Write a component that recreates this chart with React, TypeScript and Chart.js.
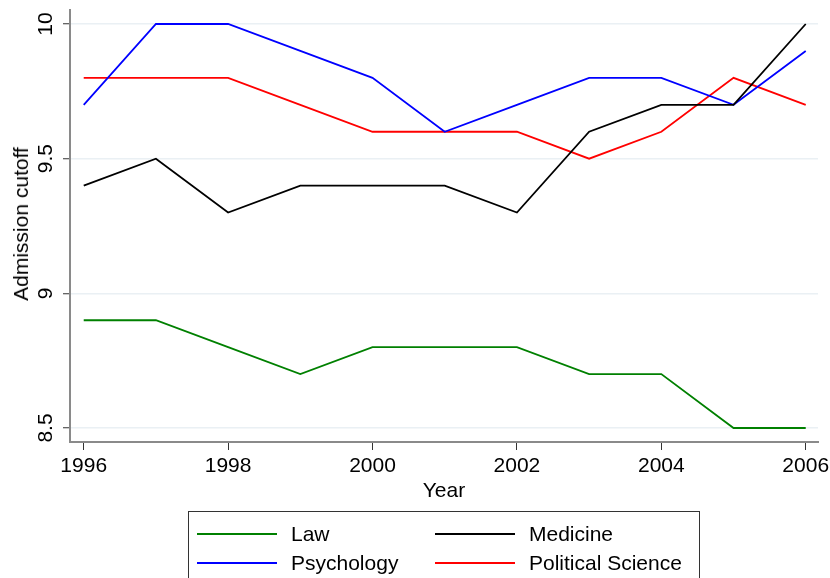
import React, { useEffect, useRef } from "react";
import { Chart, registerables } from "chart.js";

Chart.register(...registerables);

const years = [1996, 1997, 1998, 1999, 2000, 2001, 2002, 2003, 2004, 2005, 2006];
const law = [8.9, 8.9, 8.8, 8.7, 8.8, 8.8, 8.8, 8.7, 8.7, 8.5, 8.5];
const medicine = [9.4, 9.5, 9.3, 9.4, 9.4, 9.4, 9.3, 9.6, 9.7, 9.7, 10.0];
const psychology = [9.7, 10.0, 10.0, 9.9, 9.8, 9.6, 9.7, 9.8, 9.8, 9.7, 9.9];
const politicalScience = [9.8, 9.8, 9.8, 9.7, 9.6, 9.6, 9.6, 9.5, 9.6, 9.8, 9.7];

const xTicks = [1996, 1998, 2000, 2002, 2004, 2006];
const yTicks = [8.5, 9, 9.5, 10];
const yTickLabels = ["8.5", "9", "9.5", "10"];

const seriesNames = ["Law", "Medicine", "Psychology", "Political Science"];
const seriesColors = ["#008000", "#000000", "#0000ff", "#ff0000"];
const seriesValues = [law, medicine, psychology, politicalScience];

const FONT = "'Liberation Sans', Arial, sans-serif";
const FS = 21;

export default function App() {
  const ref = useRef<HTMLCanvasElement | null>(null);

  useEffect(() => {
    if (!ref.current) return;
    const yLabelPlugin = {
      id: "yLabels",
      afterDraw(chart: any) {
        const ctx = chart.ctx;
        const ys = chart.scales.y;
        ctx.save();
        ctx.fillStyle = "#000";
        ctx.font = `${FS}px ${FONT}`;
        ctx.textAlign = "center";
        ctx.textBaseline = "middle";
        yTicks.forEach((v, i) => {
          const py = ys.getPixelForValue(v);
          ctx.save();
          ctx.translate(46, py);
          ctx.rotate(-Math.PI / 2);
          ctx.fillText(yTickLabels[i], 0, 0);
          ctx.restore();
        });
        ctx.restore();
      },
    };
    const chart = new Chart(ref.current, {
      type: "line",
      data: {
        datasets: seriesNames.map((name, i) => ({
          label: name,
          data: years.map((yr, j) => ({ x: yr, y: seriesValues[i][j] })),
          borderColor: seriesColors[i],
          backgroundColor: seriesColors[i],
          borderWidth: 1.8,
          pointRadius: 0,
          tension: 0,
          fill: false,
        })),
      },
      options: {
        animation: false,
        responsive: false,
        devicePixelRatio: 1,
        layout: { padding: { top: 10, right: 12, left: 0, bottom: 0 } },
        plugins: {
          legend: { display: false },
          tooltip: { enabled: false },
        },
        scales: {
          x: {
            type: "linear",
            min: 1995.81,
            max: 2006.17,
            afterBuildTicks: (s: any) => {
              s.ticks = xTicks.map((v) => ({ value: v }));
            },
            afterFit: (s: any) => {
              s.height = 136;
              s.paddingLeft = 0;
              s.paddingRight = 0;
            },
            ticks: {
              color: "#000",
              font: { family: FONT, size: FS },
              padding: 4,
              maxRotation: 0,
              minRotation: 0,
              callback: (v: any) => String(v),
            },
            grid: {
              drawOnChartArea: false,
              drawTicks: true,
              tickLength: 8,
              tickColor: "#333",
              tickWidth: 1,
            },
            border: { color: "#8a8a8a", width: 2 },
          },
          y: {
            type: "linear",
            min: 8.448,
            max: 10.052,
            afterBuildTicks: (s: any) => {
              s.ticks = yTicks.map((v) => ({ value: v }));
            },
            afterFit: (s: any) => {
              s.width = 70;
              s.paddingTop = 0;
              s.paddingBottom = 0;
            },
            ticks: { display: false },
            grid: {
              color: "#eaf0f4",
              lineWidth: 1.5,
              drawTicks: true,
              tickLength: 7,
              tickColor: "#333",
              tickWidth: 1,
            },
            border: { color: "#8a8a8a", width: 2 },
          },
        },
      },
      plugins: [yLabelPlugin],
    } as any);
    return () => chart.destroy();
  }, []);

  const legendItem = (i: number, left: number, centerY: number) => (
    <div
      key={i}
      style={{ position: "absolute", left, top: centerY - 14, height: 28, display: "flex", alignItems: "center" }}
    >
      <div style={{ width: 80, height: 2, background: seriesColors[i] }} />
      <span style={{ marginLeft: 14, fontSize: FS, fontFamily: FONT, color: "#000", whiteSpace: "nowrap", lineHeight: "28px" }}>
        {seriesNames[i]}
      </span>
    </div>
  );

  return (
    <div style={{ position: "absolute", left: 0, top: 0, width: 830, height: 578, overflow: "hidden", background: "#fff" }}>
      <canvas ref={ref} width={830} height={578} style={{ position: "absolute", left: 0, top: 0, width: 830, height: 578 }} />
      <div
        style={{
          position: "absolute",
          left: 21,
          top: 224,
          transform: "translate(-50%, -50%) rotate(-90deg)",
          fontFamily: FONT,
          fontSize: FS,
          color: "#000",
          whiteSpace: "nowrap",
        }}
      >
        Admission cutoff
      </div>
      <div
        style={{
          position: "absolute",
          left: 444,
          top: 490,
          transform: "translate(-50%, -50%)",
          fontFamily: FONT,
          fontSize: FS,
          color: "#000",
          whiteSpace: "nowrap",
        }}
      >
        Year
      </div>
      <div
        style={{
          position: "absolute",
          left: 188,
          top: 511,
          width: 512,
          height: 80,
          border: "1px solid #333",
          boxSizing: "border-box",
        }}
      >
        {legendItem(0, 8, 22)}
        {legendItem(1, 246, 22)}
        {legendItem(2, 8, 51)}
        {legendItem(3, 246, 51)}
      </div>
    </div>
  );
}
